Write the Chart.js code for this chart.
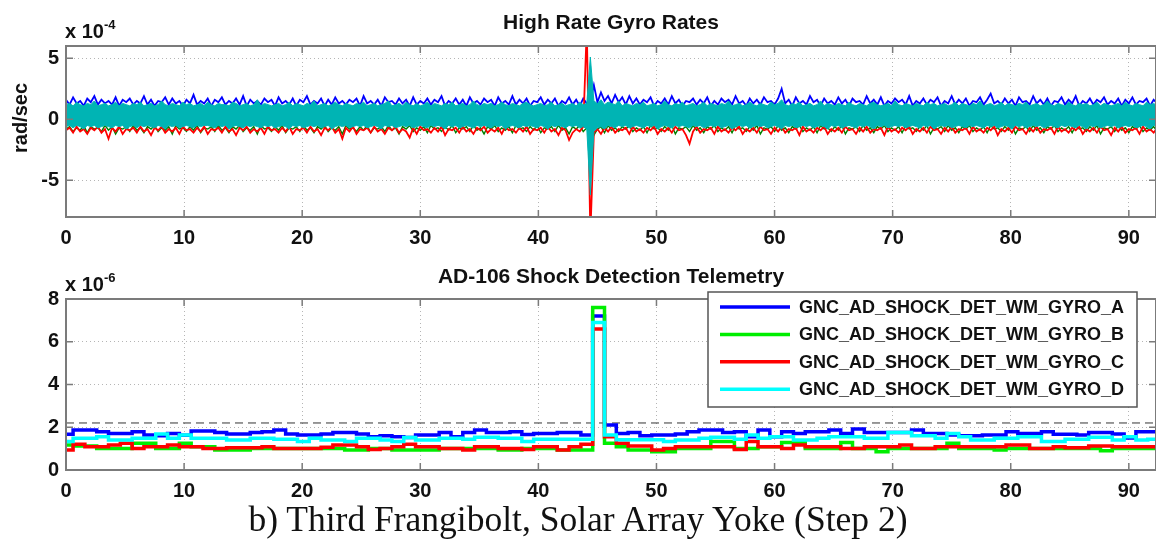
<!DOCTYPE html>
<html lang="en">
<head>
<meta charset="utf-8">
<title>Gyro rates and AD-106 shock detection</title>
<script src="https://cdn.jsdelivr.net/npm/chart.js@4.4.1/dist/chart.umd.min.js"></script>
<style>
  html, body { margin: 0; padding: 0; background: #fff; overflow: hidden; }
  body { width: 1156px; height: 550px; position: relative; font-family: "Liberation Sans", Arial, sans-serif; color: #111; }
  canvas { position: absolute; left: 0; }
  #gyro-chart { top: 0; }
  #shock-chart { top: 250px; }
  .plot-title { position: absolute; left: 611px; transform: translateX(-50%); font-weight: bold; font-size: 21px; line-height: 21px; white-space: nowrap; z-index: 2; }
  #gyro-title { top: 11px; }
  #shock-title { top: 265px; }
  .exponent { position: absolute; left: 65px; font-weight: bold; font-size: 20px; line-height: 20px; white-space: nowrap; z-index: 2; }
  .exponent .pow { position: relative; top: -9px; font-size: 13px; }
  #gyro-exp { top: 21px; }
  #shock-exp { top: 274px; }
  #gyro-ylabel { position: absolute; left: -40px; top: 108px; width: 120px; text-align: center; transform: rotate(-90deg); font-weight: bold; font-size: 20px; line-height: 20px; z-index: 2; }
  #caption { position: absolute; left: 578px; top: 502px; transform: translateX(-50%); font-family: "Liberation Serif", "Times New Roman", serif; font-size: 35.5px; line-height: 35px; white-space: nowrap; z-index: 2; }
</style>
</head>
<body>
  <canvas id="gyro-chart" width="1156" height="250"></canvas>
  <canvas id="shock-chart" width="1156" height="260"></canvas>
  <div class="plot-title" id="gyro-title">High Rate Gyro Rates</div>
  <div class="exponent" id="gyro-exp">x 10<span class="pow">-4</span></div>
  <div id="gyro-ylabel">rad/sec</div>
  <div class="plot-title" id="shock-title">AD-106 Shock Detection Telemetry</div>
  <div class="exponent" id="shock-exp">x 10<span class="pow">-6</span></div>
  <div id="caption">b) Third Frangibolt, Solar Array Yoke (Step 2)</div>

<script>
// ---- high rate gyro rates, units of 1e-4 rad/sec, one value every 0.3 s ----
const GYRO_STEP = 0.3;

// gyro A/B/C: traces where they show past the D band
const gyroA = [
  1.6,1.2,1.8,1.3,1.5,1.1,1.7,1.4,1.9,1.2,1.6,1.3,1.5,1.2,1.8,1.1,1.6,1.4,1.7,1.2,
  1.5,1.3,1.9,1.2,1.6,1.1,1.5,1.4,1.8,1.2,1.7,1.3,1.5,1.1,1.6,1.3,2.0,1.2,1.5,1.3,
  1.7,1.1,1.6,1.4,1.8,1.2,1.5,1.3,1.7,1.2,1.9,1.1,1.6,1.3,1.5,1.2,1.7,1.4,1.6,1.1,
  1.8,1.3,1.5,1.2,1.7,1.1,1.6,1.4,1.9,1.2,1.5,1.3,1.7,1.1,1.6,1.2,1.8,1.3,1.5,1.2,
  1.6,1.4,1.7,1.1,1.9,1.3,1.5,1.2,1.6,1.1,1.8,1.4,1.5,1.2,1.7,1.3,1.6,1.1,1.8,1.2,
  1.5,1.3,1.7,1.2,1.6,1.4,1.9,1.1,1.5,1.3,1.7,1.2,1.6,1.1,1.8,1.3,1.5,1.2,1.7,1.4,
  1.6,1.1,1.8,1.3,1.5,1.2,1.9,1.2,1.6,1.3,1.7,1.1,1.5,1.4,1.8,1.2,1.6,1.3,1.7,1.1,
  1.5,1.3,1.8,1.2,1.6,1.1,1.7,1.3,1.4,2.8,1.4,2.2,1.5,1.9,1.3,2.0,1.4,1.8,1.2,1.9,
  1.3,1.7,1.2,1.6,1.4,1.8,1.1,1.5,1.3,1.7,1.2,1.9,1.3,1.6,1.1,1.5,1.4,1.7,1.2,1.6,
  1.3,1.8,1.1,1.5,1.2,1.7,1.4,1.6,1.2,1.9,1.3,1.5,1.1,1.7,1.3,1.6,1.2,1.8,1.4,1.5,
  1.2,1.7,2.5,1.3,1.6,1.1,1.8,1.3,1.5,1.2,1.9,1.4,1.6,1.1,1.7,1.3,1.5,1.2,1.8,1.3,
  1.6,1.1,1.7,1.4,1.5,1.2,1.9,1.3,1.6,1.2,1.8,1.1,1.5,1.3,1.7,1.4,1.6,1.2,1.9,1.1,
  1.5,1.3,1.7,1.2,1.6,1.4,1.8,1.1,1.5,1.3,1.9,1.2,1.6,1.3,1.7,1.1,1.5,1.4,1.8,1.2,
  1.6,2.1,1.3,1.5,1.2,1.7,1.3,1.6,1.1,1.8,1.4,1.5,1.2,1.9,1.3,1.6,1.2,1.7,1.1,1.5,
  1.4,1.8,1.2,1.6,1.3,1.9,1.1,1.5,1.3,1.7,1.2,1.6,1.4,1.8,1.2,1.5,1.3,1.7,1.1,1.6,
  1.3,1.8,1.2,1.5,1.4,1.7,1.1,1.6,1.3,
];
const gyroB = [
  -0.8,-0.6,-1.0,-0.7,-0.9,-0.5,-1.1,-0.6,-0.8,-0.7,-1.0,-0.5,-0.9,-0.6,-1.2,-0.7,-0.8,-0.6,-1.0,-0.5,
  -0.9,-0.7,-1.1,-0.6,-0.8,-0.5,-1.0,-0.7,-0.9,-0.6,-1.2,-0.5,-0.8,-0.7,-1.0,-0.6,-0.9,-0.5,-1.1,-0.7,
  -0.8,-0.6,-1.0,-0.5,-0.9,-0.7,-1.1,-0.6,-0.8,-0.5,-1.0,-0.7,-0.9,-0.6,-1.2,-0.5,-0.8,-0.7,-1.0,-0.6,
  -0.9,-0.5,-1.1,-0.7,-0.8,-0.6,-1.0,-0.5,-0.9,-0.7,-1.1,-0.6,-0.8,-0.5,-1.0,-0.7,-0.9,-0.6,-1.2,-0.5,
  -0.8,-0.7,-1.0,-0.6,-0.9,-0.5,-1.1,-0.7,-0.8,-0.6,-1.0,-0.5,-0.9,-0.7,-1.2,-0.6,-0.8,-0.5,-1.0,-0.7,
  -0.9,-0.6,-1.1,-0.5,-0.8,-0.7,-1.0,-0.6,-0.9,-0.5,-1.1,-0.7,-0.8,-0.6,-1.0,-0.5,-0.9,-0.7,-1.2,-0.6,
  -0.8,-0.5,-1.0,-0.7,-0.9,-0.6,-1.1,-0.5,-0.8,-0.7,-1.0,-0.6,-0.9,-0.5,-1.1,-0.7,-0.8,-0.6,-1.0,-0.5,
  -0.9,-0.7,-1.2,-0.6,-0.8,-0.5,-1.0,-0.7,-0.9,-1.3,-0.8,-0.6,-1.1,-0.5,-0.9,-0.7,-1.0,-0.6,-0.8,-0.5,
  -1.0,-0.7,-0.9,-0.6,-1.1,-0.5,-0.8,-0.7,-1.0,-0.6,-0.9,-0.5,-1.2,-0.7,-0.8,-0.6,-1.0,-0.5,-0.9,-0.7,
  -1.1,-0.6,-0.8,-0.5,-1.0,-0.7,-0.9,-0.6,-1.1,-0.5,-0.8,-0.7,-1.0,-0.6,-0.9,-0.5,-1.2,-0.7,-0.8,-0.6,
  -1.0,-0.5,-0.9,-0.7,-1.1,-0.6,-0.8,-0.5,-1.0,-0.7,-0.9,-0.6,-1.1,-0.5,-0.8,-0.7,-1.0,-0.6,-0.9,-0.5,
  -1.2,-0.7,-0.8,-0.6,-1.0,-0.5,-0.9,-0.7,-1.1,-0.6,-0.8,-0.5,-1.0,-0.7,-0.9,-0.6,-1.1,-0.5,-0.8,-0.7,
  -1.0,-0.6,-0.9,-0.5,-1.2,-0.7,-0.8,-0.6,-1.0,-0.5,-0.9,-0.7,-1.1,-0.6,-0.8,-0.5,-1.0,-0.7,-0.9,-0.6,
  -1.1,-0.5,-0.8,-0.7,-1.0,-0.6,-0.9,-0.5,-1.2,-0.7,-0.8,-0.6,-1.0,-0.5,-0.9,-0.7,-1.1,-0.6,-0.8,-0.5,
  -1.0,-0.7,-0.9,-0.6,-1.1,-0.5,-0.8,-0.7,-1.0,-0.6,-0.9,-0.5,-1.2,-0.7,-0.8,-0.6,-1.0,-0.5,-0.9,-0.7,
  -1.1,-0.6,-0.8,-0.5,-1.0,-0.7,-0.9,-0.6,-1.0,
];
const gyroC = [
  -0.9,-0.7,-1.1,-0.6,-1.0,-0.8,-1.2,-0.7,-0.9,-0.6,-1.1,-0.8,-1.6,-0.7,-1.0,-0.6,-1.2,-0.8,-0.9,-0.7,
  -1.1,-0.6,-1.0,-0.8,-1.3,-0.7,-0.9,-0.6,-1.1,-0.8,-1.0,-0.7,-1.2,-0.6,-0.9,-0.8,-1.1,-0.7,-1.0,-0.6,
  -1.2,-0.8,-0.9,-0.7,-1.1,-0.6,-1.0,-0.8,-1.3,-0.7,-0.9,-0.6,-1.1,-0.8,-1.0,-0.7,-1.2,-0.6,-0.9,-0.8,
  -1.1,-0.7,-1.0,-0.6,-1.2,-0.8,-0.9,-0.7,-1.1,-0.6,-1.0,-0.8,-1.3,-0.7,-0.9,-0.6,-1.1,-0.8,-1.6,-0.7,
  -1.0,-0.6,-1.2,-0.8,-0.9,-0.7,-1.1,-0.6,-1.0,-0.8,-1.2,-0.7,-0.9,-0.6,-1.1,-0.8,-1.0,-1.5,-0.7,-1.2,
  -0.6,-0.9,-0.8,-1.1,-0.7,-1.0,-0.6,-1.3,-0.8,-0.9,-0.7,-1.1,-0.6,-1.0,-0.8,-1.2,-0.7,-0.9,-0.6,-1.1,
  -0.8,-1.0,-0.7,-1.2,-0.6,-0.9,-0.8,-1.1,-0.7,-1.0,-0.6,-1.2,-0.8,-0.9,-0.7,-1.1,-0.6,-1.0,-0.8,-1.3,
  -0.7,-0.9,-1.7,-1.1,-0.8,-1.0,-0.6,7.5,-9.5,-1.1,-0.8,-1.2,-0.7,-1.0,-0.6,-1.1,-0.8,-0.9,-0.7,-1.2,
  -0.6,-1.0,-0.8,-1.1,-0.7,-0.9,-0.6,-1.2,-0.8,-1.0,-0.7,-1.1,-0.6,-0.9,-0.8,-1.3,-2.0,-1.0,-0.6,-1.1,
  -0.8,-0.9,-0.7,-1.2,-0.6,-1.0,-0.8,-1.1,-0.7,-0.9,-0.6,-1.2,-0.8,-1.0,-0.7,-1.1,-0.6,-0.9,-0.8,-1.2,
  -0.7,-1.0,-0.6,-1.1,-0.8,-0.9,-0.7,-1.3,-0.6,-1.0,-0.8,-1.1,-0.7,-0.9,-0.6,-1.2,-0.8,-1.0,-0.7,-1.1,
  -0.6,-0.9,-0.8,-1.2,-0.7,-1.0,-0.6,-1.1,-0.8,-0.9,-0.7,-1.3,-0.6,-1.0,-0.8,-1.1,-0.7,-0.9,-0.6,-1.2,
  -0.8,-1.0,-0.7,-1.1,-0.6,-0.9,-0.8,-1.2,-0.7,-1.0,-0.6,-1.1,-0.8,-0.9,-0.7,-1.2,-0.6,-1.0,-0.8,-1.1,
  -0.7,-0.9,-0.6,-1.3,-0.8,-1.0,-0.7,-1.1,-0.6,-0.9,-0.8,-1.2,-0.7,-1.0,-0.6,-1.1,-0.8,-0.9,-0.7,-1.2,
  -0.6,-1.0,-0.8,-1.1,-0.7,-0.9,-0.6,-1.2,-0.8,-1.0,-0.7,-1.1,-0.6,-0.9,-0.8,-1.3,-0.7,-1.0,-0.6,-1.1,
  -0.8,-0.9,-0.7,-1.2,-0.6,-1.0,-0.8,-1.1,-0.7,
];
// gyro D is dense enough to read as a band: upper and lower envelope per sample
const gyroDHigh = [
  1.2,1.3,1.1,1.4,1.2,1.1,1.3,1.2,1.5,1.1,1.2,1.3,1.1,1.2,1.4,1.1,1.3,1.2,1.1,1.3,
  1.2,1.4,1.1,1.2,1.3,1.1,1.2,1.5,1.2,1.1,1.3,1.2,1.1,1.4,1.2,1.3,1.1,1.2,1.3,1.1,
  1.4,1.2,1.1,1.3,1.2,1.2,1.1,1.4,1.3,1.1,1.2,1.3,1.1,1.2,1.6,1.1,1.3,1.2,1.1,1.2,
  1.3,1.1,1.2,1.4,1.1,1.3,1.2,1.1,1.3,1.2,1.5,1.1,1.2,1.3,1.1,1.2,1.4,1.2,1.1,1.3,
  1.2,1.1,1.3,1.2,1.4,1.1,1.2,1.3,1.1,1.2,1.3,1.5,1.1,1.2,1.3,1.1,1.4,1.2,1.1,1.3,
  1.1,1.2,1.4,1.1,1.3,1.2,1.1,1.3,1.2,1.4,1.1,1.2,1.3,1.1,1.2,1.5,1.2,1.1,1.3,1.2,
  1.3,1.1,1.2,1.4,1.2,1.1,1.3,1.2,1.1,1.3,1.4,1.2,1.1,1.2,1.3,1.1,1.2,1.4,1.1,1.2,
  1.3,1.1,1.2,1.3,1.1,1.4,1.2,1.3,5.1,1.5,1.3,1.6,1.2,1.4,1.3,1.2,1.5,1.1,1.3,1.2,
  1.1,1.3,1.2,1.4,1.1,1.2,1.3,1.1,1.2,1.5,1.2,1.1,1.3,1.2,1.4,1.1,1.2,1.3,1.1,1.2,
  1.4,1.1,1.3,1.2,1.1,1.3,1.2,1.5,1.1,1.2,1.3,1.1,1.2,1.4,1.2,1.1,1.3,1.2,1.1,1.4,
  1.2,1.3,1.6,1.2,1.1,1.3,1.2,1.4,1.1,1.2,1.3,1.1,1.2,1.5,1.1,1.3,1.2,1.1,1.3,1.2,
  1.1,1.4,1.2,1.1,1.3,1.2,1.1,1.3,1.4,1.2,1.1,1.2,1.3,1.1,1.5,1.2,1.1,1.3,1.2,1.1,
  1.3,1.2,1.1,1.4,1.2,1.3,1.1,1.2,1.3,1.1,1.2,1.4,1.1,1.3,1.2,1.1,1.3,1.2,1.5,1.1,
  1.2,1.3,1.1,1.2,1.4,1.1,1.3,1.2,1.1,1.3,1.2,1.4,1.1,1.2,1.3,1.1,1.2,1.5,1.2,1.1,
  1.3,1.2,1.1,1.4,1.2,1.1,1.3,1.2,1.3,1.1,1.2,1.4,1.1,1.3,1.2,1.1,1.2,1.3,1.1,1.4,
  1.2,1.1,1.3,1.2,1.1,1.4,1.2,1.3,1.1,
];
const gyroDLow = [
  -0.6,-0.5,-0.7,-0.5,-0.6,-0.8,-0.5,-0.6,-0.5,-0.7,-0.6,-0.5,-0.6,-0.7,-0.5,-0.6,-0.5,-0.8,-0.6,-0.5,
  -0.7,-0.5,-0.6,-0.5,-0.6,-0.7,-0.5,-0.6,-0.8,-0.5,-0.6,-0.5,-0.7,-0.6,-0.5,-0.6,-0.7,-0.5,-0.6,-0.5,
  -0.5,-0.6,-0.7,-0.5,-0.6,-0.5,-0.8,-0.6,-0.5,-0.6,-0.7,-0.5,-0.6,-0.5,-0.6,-0.7,-0.5,-0.6,-0.5,-0.7,
  -0.6,-0.5,-0.6,-0.8,-0.5,-0.6,-0.5,-0.7,-0.6,-0.5,-0.6,-0.5,-0.7,-0.6,-0.5,-0.8,-0.6,-0.5,-0.6,-0.5,
  -0.7,-0.6,-0.5,-0.6,-0.5,-0.7,-0.6,-0.5,-0.6,-0.8,-0.5,-0.6,-0.5,-0.7,-0.6,-0.5,-0.6,-0.5,-0.7,-0.6,
  -0.5,-0.6,-0.7,-0.5,-0.6,-0.5,-0.6,-0.8,-0.5,-0.6,-0.5,-0.7,-0.6,-0.5,-0.6,-0.7,-0.5,-0.6,-0.5,-0.6,
  -0.7,-0.5,-0.6,-0.5,-0.8,-0.6,-0.5,-0.6,-0.7,-0.5,-0.6,-0.5,-0.6,-0.7,-0.5,-0.6,-0.8,-0.5,-0.6,-0.5,
  -0.6,-0.7,-0.5,-0.6,-0.5,-0.7,-0.6,-0.8,-6.2,-1.0,-0.7,-0.6,-0.8,-0.5,-0.6,-0.7,-0.5,-0.6,-0.5,-0.7,
  -0.6,-0.5,-0.6,-0.7,-0.5,-0.6,-0.5,-0.8,-0.6,-0.5,-0.6,-0.7,-0.5,-0.6,-0.5,-0.6,-0.7,-0.5,-0.6,-0.5,
  -0.7,-0.6,-0.5,-0.6,-0.5,-0.7,-0.6,-0.5,-0.8,-0.6,-0.5,-0.6,-0.5,-0.7,-0.6,-0.5,-0.6,-0.5,-0.7,-0.6,
  -0.5,-0.6,-0.8,-0.5,-0.6,-0.5,-0.7,-0.6,-0.5,-0.6,-0.5,-0.7,-0.6,-0.5,-0.6,-0.8,-0.5,-0.6,-0.5,-0.7,
  -0.6,-0.5,-0.6,-0.7,-0.5,-0.6,-0.5,-0.6,-0.8,-0.5,-0.6,-0.5,-0.7,-0.6,-0.5,-0.6,-0.5,-0.7,-0.6,-0.5,
  -0.6,-0.7,-0.5,-0.6,-0.5,-0.8,-0.6,-0.5,-0.6,-0.5,-0.7,-0.6,-0.5,-0.6,-0.7,-0.5,-0.6,-0.5,-0.6,-0.7,
  -0.5,-0.6,-0.5,-0.7,-0.6,-0.5,-0.6,-0.8,-0.5,-0.6,-0.5,-0.7,-0.6,-0.5,-0.6,-0.5,-0.7,-0.6,-0.5,-0.6,
  -0.7,-0.5,-0.6,-0.5,-0.6,-0.7,-0.5,-0.6,-0.8,-0.5,-0.6,-0.5,-0.7,-0.6,-0.5,-0.6,-0.5,-0.7,-0.6,-0.5,
  -0.6,-0.5,-0.7,-0.6,-0.5,-0.6,-0.8,-0.5,-0.6,
];

// ---- AD-106 shock detection, units of 1e-6, held 1 s per value from t = -0.4 ----
const SHOCK_START = -0.4;
const SHOCK_STEP = 1.0;
const SHOCK_THRESHOLD = 2.2;
const shockLabels = [
  "GNC_AD_SHOCK_DET_WM_GYRO_A",
  "GNC_AD_SHOCK_DET_WM_GYRO_B",
  "GNC_AD_SHOCK_DET_WM_GYRO_C",
  "GNC_AD_SHOCK_DET_WM_GYRO_D",
];
const shockA = [
  1.67,1.87,1.87,1.79,1.71,1.71,1.79,1.64,1.60,1.71,
  1.62,1.82,1.82,1.75,1.69,1.69,1.75,1.79,1.87,1.69,
  1.64,1.64,1.69,1.75,1.75,1.69,1.56,1.60,1.56,1.52,
  1.64,1.64,1.75,1.56,1.75,1.87,1.75,1.75,1.79,1.66,
  1.71,1.71,1.75,1.75,1.64,7.20,2.10,1.71,1.75,1.60,
  1.64,1.64,1.69,1.79,1.87,1.87,1.75,1.79,1.56,1.87,
  1.56,1.79,1.71,1.79,1.79,1.87,1.71,1.92,1.75,1.75,
  1.75,1.75,1.87,1.71,1.71,1.64,1.60,1.60,1.64,1.64,
  1.79,1.71,1.71,1.79,1.67,1.67,1.64,1.75,1.75,1.69,
  1.50,1.79,1.79,1.79,
];
const shockB = [
  1.17,1.12,1.12,1.01,1.01,1.01,1.25,1.25,1.01,1.01,
  1.25,1.09,1.09,0.93,0.93,0.93,1.01,1.01,1.01,1.01,
  1.01,1.01,1.01,1.01,0.93,0.93,1.01,1.01,0.93,0.93,
  0.93,0.93,1.01,1.01,1.01,1.01,1.01,0.93,0.93,1.01,
  1.01,1.01,0.93,0.93,0.93,7.60,1.25,1.09,0.93,0.93,
  0.85,0.85,1.01,1.01,1.01,1.33,1.33,1.01,1.01,1.09,
  1.09,1.29,1.29,1.01,1.01,1.01,1.29,1.01,1.01,0.85,
  1.01,1.01,1.01,1.01,1.01,1.25,1.01,1.01,1.01,0.93,
  1.01,1.01,1.01,1.01,1.01,1.01,1.01,1.01,0.90,1.01,
  1.01,1.01,1.01,1.01,
];
const shockC = [
  0.93,1.20,1.09,1.09,1.17,1.25,1.01,1.09,1.09,1.17,
  1.09,1.09,1.01,1.01,1.04,1.04,1.04,1.09,1.01,1.01,
  1.01,1.01,1.06,1.17,1.17,1.09,0.96,1.01,1.09,1.20,
  1.09,1.09,1.01,1.01,0.93,1.09,1.09,1.01,1.01,0.96,
  1.09,1.09,0.93,1.09,1.20,6.60,1.56,1.25,1.12,1.12,
  0.93,1.01,1.09,1.09,1.09,1.09,1.09,0.96,1.33,1.09,
  1.09,1.01,1.17,1.09,1.09,1.09,1.01,1.01,1.09,1.09,
  1.09,1.17,1.01,1.01,1.09,1.09,1.09,1.09,1.09,1.09,
  1.17,1.17,1.01,1.01,1.09,1.04,1.04,1.12,1.12,1.09,
  1.09,1.09,1.09,1.09,
];
const shockD = [
  1.33,1.48,1.48,1.56,1.40,1.40,1.48,1.48,1.68,1.48,
  1.64,1.48,1.48,1.48,1.40,1.40,1.48,1.48,1.44,1.44,
  1.33,1.48,1.40,1.40,1.33,1.48,1.48,1.40,1.33,1.52,
  1.40,1.40,1.48,1.48,1.44,1.53,1.53,1.48,1.48,1.33,
  1.44,1.44,1.44,1.44,1.44,6.90,1.64,1.42,1.42,1.42,
  1.42,1.33,1.40,1.40,1.48,1.53,1.53,1.44,1.64,1.48,
  1.56,1.56,1.40,1.40,1.48,1.56,1.56,1.56,1.48,1.48,
  1.75,1.75,1.60,1.60,1.48,1.71,1.56,1.40,1.40,1.48,
  1.48,1.56,1.56,1.33,1.33,1.44,1.44,1.53,1.53,1.40,
  1.56,1.40,1.44,1.44,
];

const X_MAX = 92.3;
const AXIS_GREY = "#7b7b7b";
const GRID_GREY = "#b5b5b5";
const tickFont = { family: "'Liberation Sans', Arial, sans-serif", size: 20, weight: "bold" };

const toPoints = (values, start, step) => values.map((y, i) => ({ x: start + i * step, y }));

function buildScales({ yMin, yMax, yStep, xAxisHeight }) {
  const grid = { color: GRID_GREY, lineWidth: 1, drawTicks: false };
  const border = { display: false, dash: [1, 3] };
  return {
    x: {
      type: "linear",
      min: 0,
      max: X_MAX,
      ticks: { stepSize: 10, includeBounds: false, padding: 9, maxRotation: 0, font: tickFont, color: "#111" },
      grid,
      border,
      afterFit: (scale) => { scale.height = xAxisHeight; },
    },
    y: {
      type: "linear",
      min: yMin,
      max: yMax,
      ticks: { stepSize: yStep, includeBounds: false, padding: 7, font: tickFont, color: "#111" },
      grid,
      border,
      afterFit: (scale) => { scale.width = 66; },
    },
  };
}

// box round the plot with short tick marks pointing inwards
const axesFrame = {
  id: "axesFrame",
  afterDatasetsDraw(chart) {
    const { ctx, chartArea: a, scales } = chart;
    const len = 7;
    ctx.save();
    ctx.strokeStyle = AXIS_GREY;
    ctx.lineWidth = 1.5;
    ctx.beginPath();
    scales.x.ticks.forEach(({ value }) => {
      const px = scales.x.getPixelForValue(value);
      ctx.moveTo(px, a.bottom);
      ctx.lineTo(px, a.bottom - len);
      ctx.moveTo(px, a.top);
      ctx.lineTo(px, a.top + len);
    });
    scales.y.ticks.forEach(({ value }) => {
      const py = scales.y.getPixelForValue(value);
      ctx.moveTo(a.left, py);
      ctx.lineTo(a.left + len, py);
      ctx.moveTo(a.right, py);
      ctx.lineTo(a.right - len, py);
    });
    ctx.stroke();
    ctx.lineWidth = 2;
    ctx.strokeRect(a.left, a.top, a.right - a.left, a.bottom - a.top);
    ctx.restore();
  },
};

// legend in a white box laid over the upper right of the plot
const boxedLegend = {
  id: "boxedLegend",
  afterDraw(chart, args, opts) {
    const { ctx, chartArea: a } = chart;
    const left = a.right - opts.right - opts.width;
    const top = a.top + opts.top;
    ctx.save();
    ctx.fillStyle = "#fff";
    ctx.fillRect(left, top, opts.width, opts.height);
    ctx.strokeStyle = "#555";
    ctx.lineWidth = 1.5;
    ctx.strokeRect(left, top, opts.width, opts.height);
    ctx.font = "bold 18px 'Liberation Sans', Arial, sans-serif";
    ctx.textBaseline = "middle";
    chart.data.datasets
      .filter((ds) => ds.inLegend)
      .forEach((ds, i) => {
        const y = top + opts.firstRow + i * opts.rowGap;
        ctx.strokeStyle = ds.borderColor;
        ctx.lineWidth = ds.borderWidth;
        ctx.beginPath();
        ctx.moveTo(left + 12, y);
        ctx.lineTo(left + 82, y);
        ctx.stroke();
        ctx.fillStyle = "#111";
        ctx.fillText(ds.label, left + 91, y + 1);
      });
    ctx.restore();
  },
};

const baseOptions = {
  responsive: false,
  devicePixelRatio: 1,
  animation: false,
  events: [],
  elements: { point: { radius: 0 }, line: { tension: 0 } },
  plugins: { legend: { display: false }, tooltip: { enabled: false } },
};

function renderGyroChart() {
  const teal = "#00b4b4";
  new Chart(document.getElementById("gyro-chart"), {
    type: "line",
    data: {
      datasets: [
        { label: "Gyro A", data: toPoints(gyroA, 0, GYRO_STEP), borderColor: "#0000ff", borderWidth: 1.8, order: 5 },
        { label: "Gyro B", data: toPoints(gyroB, 0, GYRO_STEP), borderColor: "#008000", borderWidth: 1.4, order: 4 },
        { label: "Gyro C", data: toPoints(gyroC, 0, GYRO_STEP), borderColor: "#ff0000", borderWidth: 1.8, order: 3 },
        { label: "Gyro D min", data: toPoints(gyroDLow, 0, GYRO_STEP), borderColor: teal, borderWidth: 1, order: 2 },
        {
          label: "Gyro D max",
          data: toPoints(gyroDHigh, 0, GYRO_STEP),
          borderColor: teal,
          backgroundColor: teal,
          borderWidth: 1,
          fill: "-1",
          order: 1,
        },
      ],
    },
    options: {
      ...baseOptions,
      layout: { padding: { top: 46, right: 0, bottom: 0, left: 0 } },
      scales: buildScales({ yMin: -8, yMax: 6, yStep: 5, xAxisHeight: 33 }),
    },
    plugins: [axesFrame],
  });
}

function renderShockChart() {
  const colors = ["#0000ff", "#00ee00", "#ff0000", "#00ffff"];
  const series = [shockA, shockB, shockC, shockD];
  const datasets = series.map((values, i) => ({
    label: shockLabels[i],
    data: toPoints(values, SHOCK_START, SHOCK_STEP),
    borderColor: colors[i],
    borderWidth: 3.5,
    stepped: true,
    inLegend: true,
    order: 4 - i,
  }));
  datasets.push({
    label: "threshold",
    data: [{ x: 0, y: SHOCK_THRESHOLD }, { x: X_MAX, y: SHOCK_THRESHOLD }],
    borderColor: "#333",
    borderWidth: 1,
    borderDash: [8, 5],
    order: 9,
  });

  new Chart(document.getElementById("shock-chart"), {
    type: "line",
    data: { datasets },
    options: {
      ...baseOptions,
      layout: { padding: { top: 49, right: 0, bottom: 0, left: 0 } },
      scales: buildScales({ yMin: 0, yMax: 8, yStep: 2, xAxisHeight: 40 }),
      plugins: {
        ...baseOptions.plugins,
        boxedLegend: { right: 19, top: -7, width: 429, height: 115, firstRow: 15, rowGap: 27.4 },
      },
    },
    plugins: [axesFrame, boxedLegend],
  });
}

renderGyroChart();
renderShockChart();
</script>
</body>
</html>
